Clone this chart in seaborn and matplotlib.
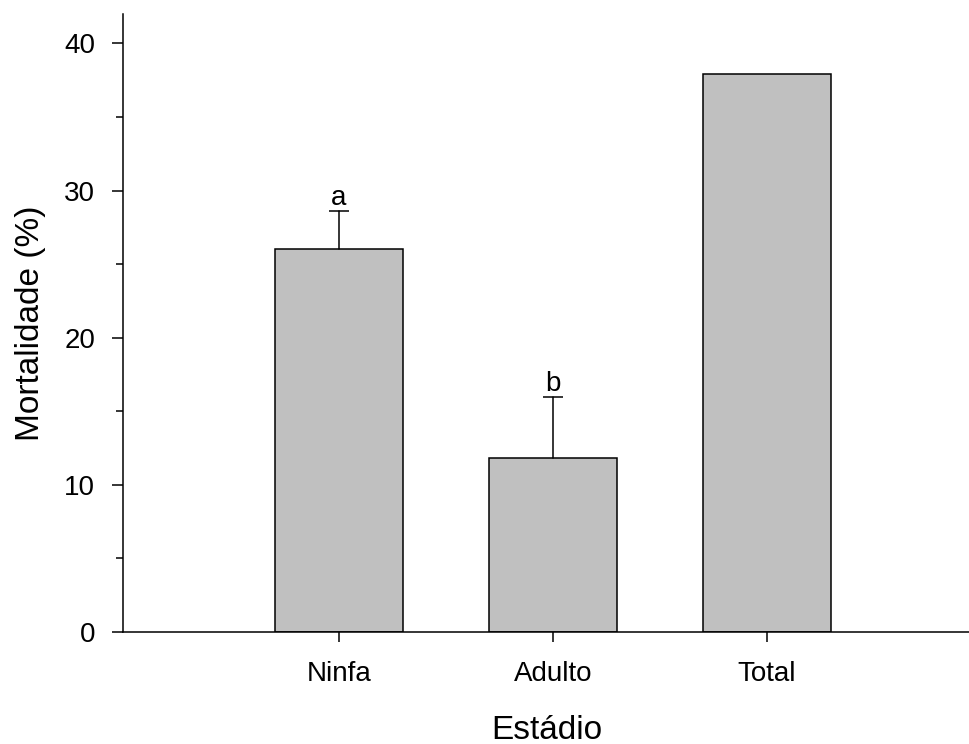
import matplotlib
matplotlib.use('Agg')
import matplotlib.pyplot as plt
import seaborn as sns
import pandas as pd
import numpy as np
from matplotlib.ticker import MultipleLocator

# Datos
estadios = ['Ninfa', 'Adulto', 'Total']
mortalidade = [26.05, 11.85, 37.95]
erro_sup = [2.55, 4.1, 0.0]
letras = ['a', 'b', '']

sns.set_style('ticks')
plt.rcParams['font.family'] = ['Liberation Sans', 'DejaVu Sans']
plt.rcParams.update({'text.color': 'black', 'axes.labelcolor': 'black',
                     'xtick.color': 'black', 'ytick.color': 'black',
                     'axes.edgecolor': 'black'})

df = pd.DataFrame({'estadio': estadios, 'mortalidade': mortalidade})

fig = plt.figure(figsize=(9.7, 7.44), dpi=100)
ax = fig.add_axes([123 / 970, 1 - 632 / 744, 1 - 123 / 970, (632 - 14) / 744])

sns.barplot(data=df, x='estadio', y='mortalidade', color='#c0c0c0',
            edgecolor='black', linewidth=1.1, width=0.6, saturation=1,
            errorbar=None, ax=ax)

# barras de error solo hacia arriba
for i, (v, e, l) in enumerate(zip(mortalidade, erro_sup, letras)):
    if e > 0:
        ax.plot([i, i], [v, v + e], color='black', lw=1.1, zorder=3)
        ax.plot([i - 0.047, i + 0.047], [v + e, v + e], color='black',
                lw=1.1, zorder=3, solid_capstyle='butt')
    if l:
        ax.annotate(l, (i, v + e), xytext=(0, 0), textcoords='offset points',
                    ha='center', va='bottom', fontsize=20)

ax.set_xlim(-1.01, 2.95)
ax.set_ylim(0, 42)
ax.yaxis.set_major_locator(MultipleLocator(10))
ax.yaxis.set_minor_locator(MultipleLocator(5))
ax.tick_params(axis='y', which='major', length=8, width=1.1, labelsize=20, pad=12)
ax.tick_params(axis='y', which='minor', length=5, width=1.1)
ax.tick_params(axis='x', length=7, width=1.1, labelsize=20, pad=14)

ax.set_xlabel('Estádio', fontsize=24, labelpad=20)
ax.set_ylabel('Mortalidade (%)', fontsize=24, labelpad=13)

for s in ['top', 'right']:
    ax.spines[s].set_visible(False)
for s in ['left', 'bottom']:
    ax.spines[s].set_linewidth(1.1)

plt.savefig('out.png', dpi=100)
plt.close()
